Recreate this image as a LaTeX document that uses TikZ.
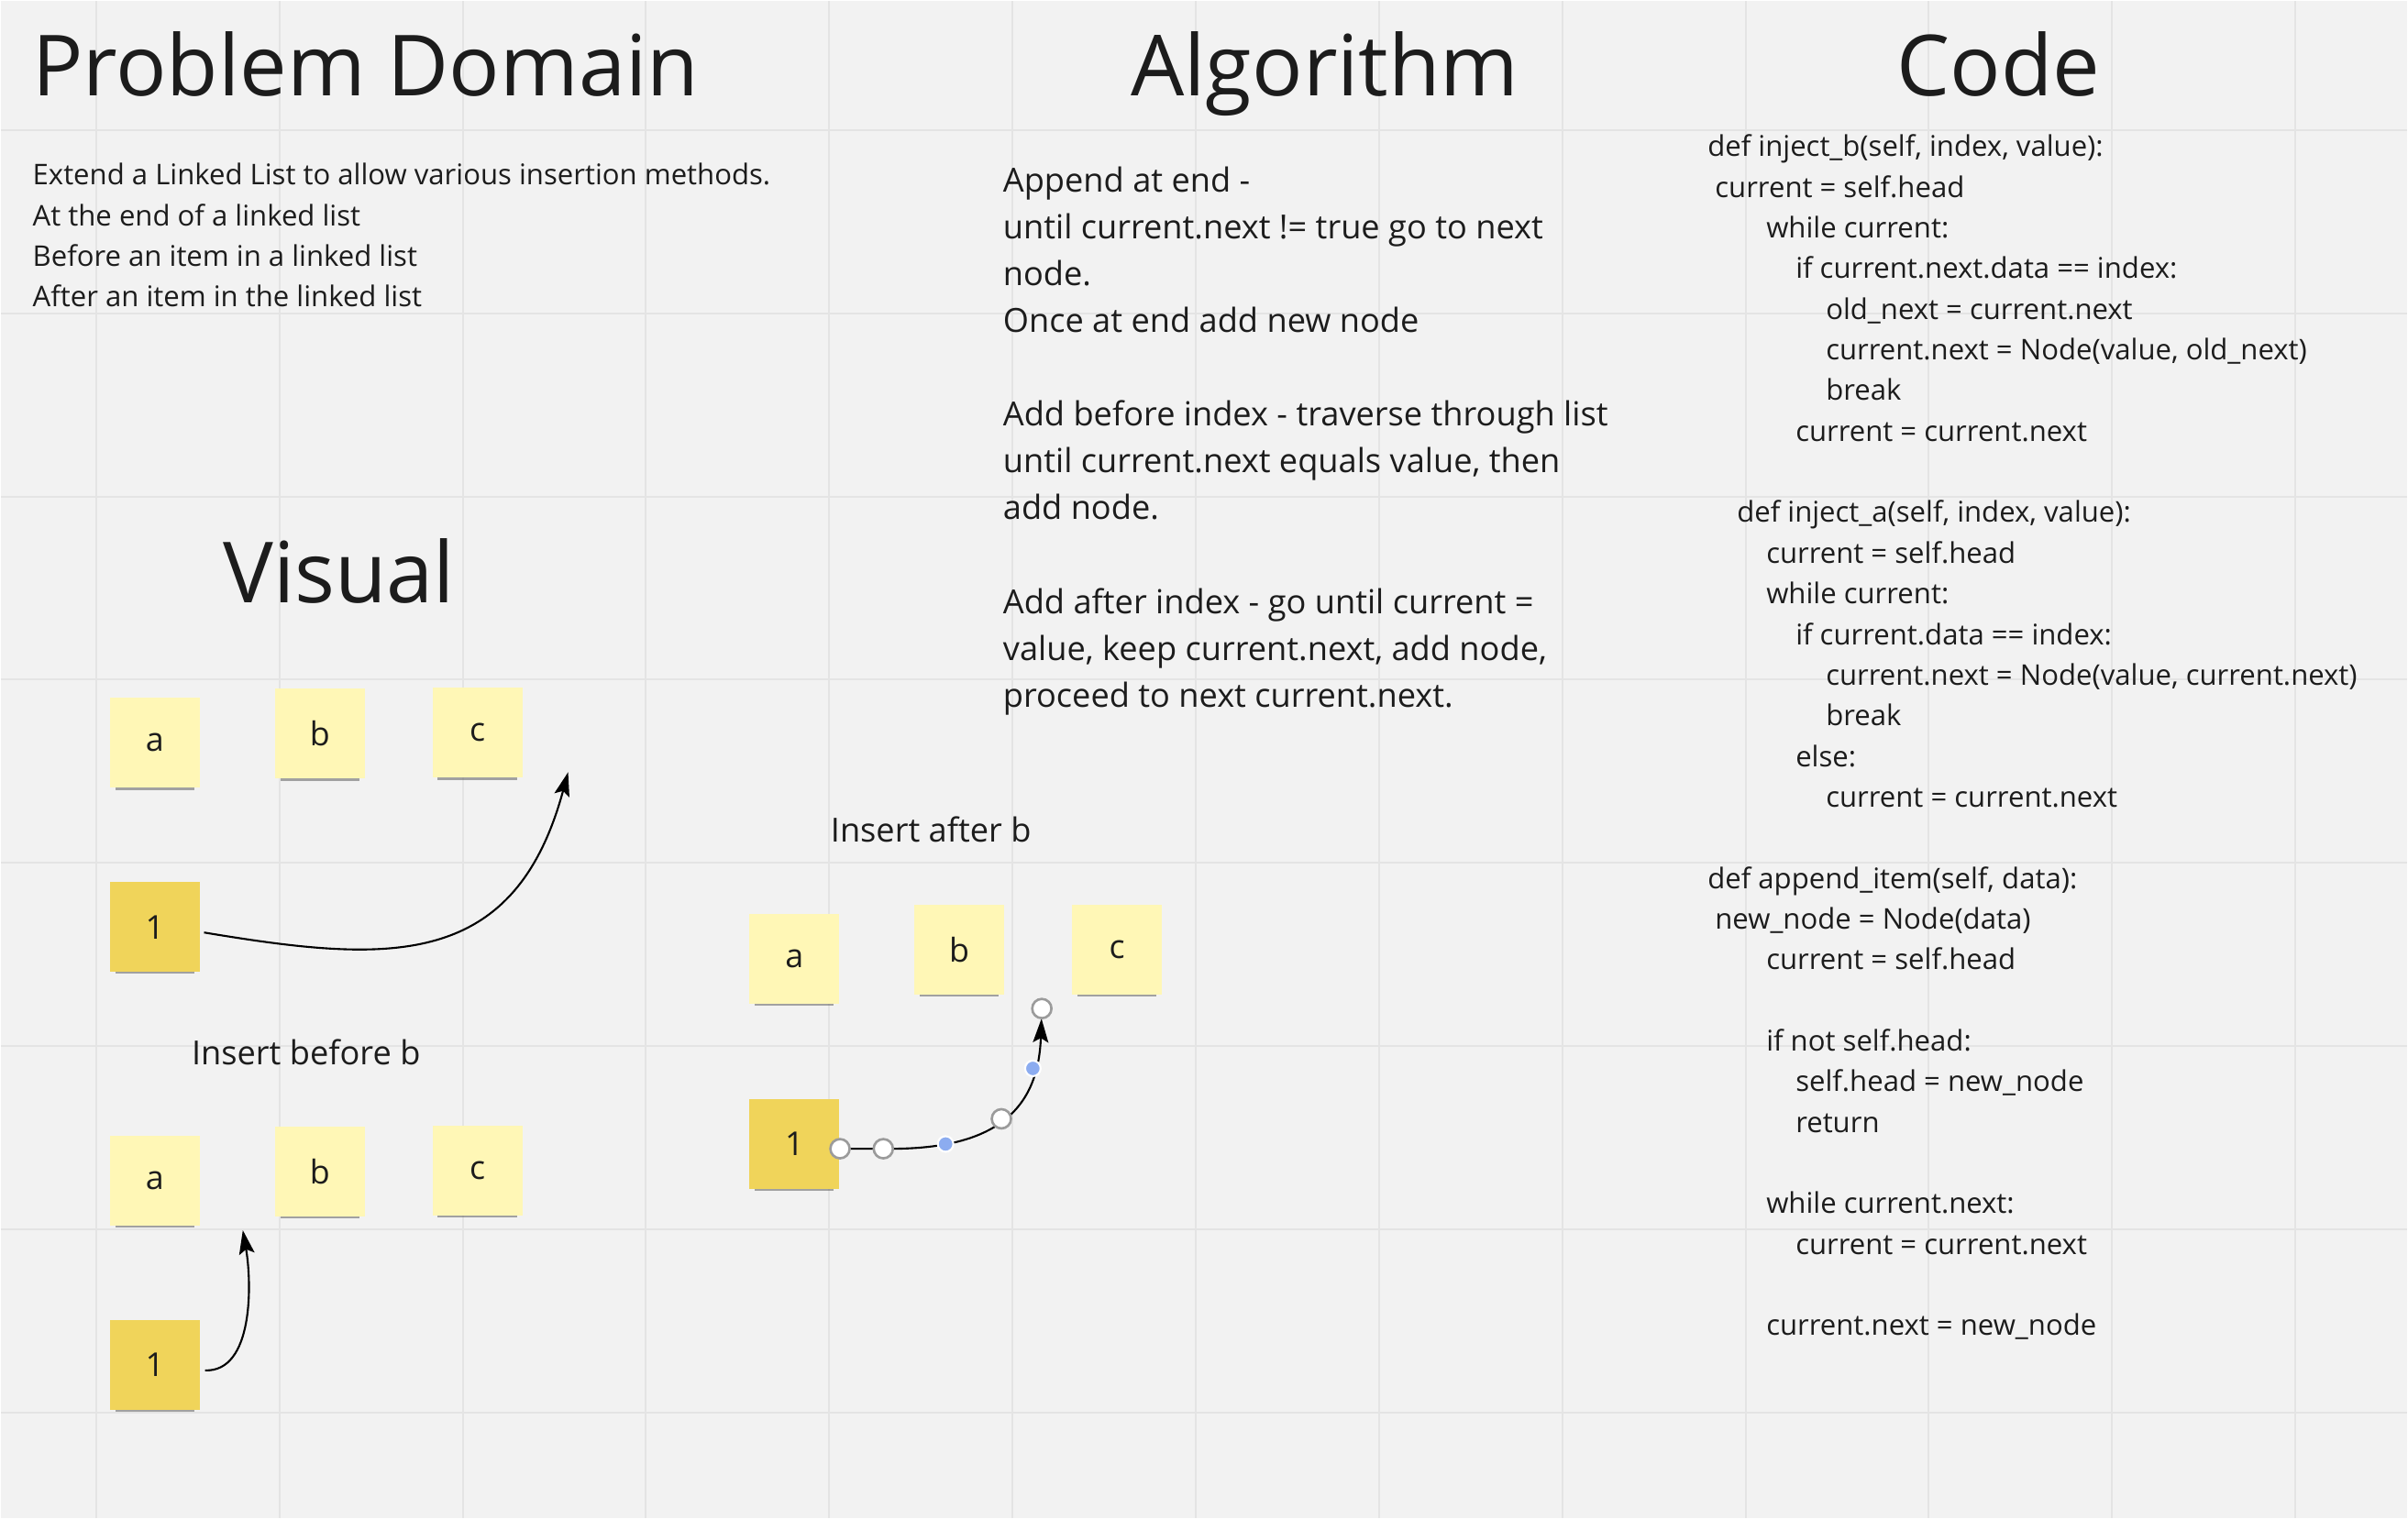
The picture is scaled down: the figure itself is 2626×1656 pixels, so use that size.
\documentclass[tikz,border=0pt]{standalone}
\usepackage{fontspec}
\setmainfont{Open Sans}
\usetikzlibrary{arrows.meta, positioning, shadows}
\definecolor{boardbg}{RGB}{242,242,242}
\definecolor{boardgrid}{RGB}{228,228,228}
\definecolor{stickylight}{RGB}{255,247,182}
\definecolor{stickydark}{RGB}{240,212,90}
\definecolor{inktext}{RGB}{28,28,28}
\definecolor{handlegray}{RGB}{155,155,155}
\definecolor{handleblue}{RGB}{140,172,240}

\begin{document}
\begin{tikzpicture}[x=0.01cm, y=-0.01cm,
    gridline/.style={draw=boardgrid, line width=0.57pt},
    sticky/.style={rectangle, fill=stickylight, minimum size=0.98cm, inner sep=0pt, text=inktext,
        font=\fontsize{10.2}{12}\selectfont,
        drop shadow={shadow xshift=0pt, shadow yshift=-2.6pt, shadow scale=0.88, opacity=0.45, fill=black!75}},
    stickyone/.style={sticky, fill=stickydark},
    heading/.style={anchor=base, inner sep=0pt, text=inktext, font=\fontsize{26.2}{32}\selectfont},
    plaintext/.style={anchor=base west, align=left, inner sep=0pt, text=inktext, font=\fontsize{8.85}{12.62}\selectfont},
    algotext/.style={anchor=base west, align=left, inner sep=0pt, text=inktext, font=\fontsize{10.3}{14.55}\selectfont},
    caption/.style={anchor=base, inner sep=0pt, text=inktext, font=\fontsize{10.3}{12}\selectfont},
    link/.style={draw=black, line width=0.6pt, -{Stealth[length=7.4pt, width=4.8pt, inset=1.4pt]}},
    handle/.style={circle, draw=handlegray, fill=white, line width=0.75pt, minimum size=0.21cm, inner sep=0pt},
    midhandle/.style={circle, fill=handleblue, draw=white, line width=0.6pt, minimum size=0.17cm, inner sep=0pt}]

    % Board and grid
    \fill[boardbg] (0,0) rectangle (2626,1656);
    \foreach \gx in {104,304,...,2504} \draw[gridline] (\gx,0) -- (\gx,1656);
    \foreach \gy in {141,341,...,1541} \draw[gridline] (0,\gy) -- (2626,\gy);
    \useasboundingbox (0,0) rectangle (2626,1656);

    % Headings
    \node[heading] (probtitle) at (398,104) {Problem Domain};
    \node[heading] (algotitle) at (1445,104) {Algorithm};
    \node[heading] (codetitle) at (2180,104) {Code};
    \node[heading] (vistitle) at (369,657) {Visual};

    % Problem domain (anchored at last baseline)
    \node[plaintext] (probtext) at (34,334) {Extend a Linked List to allow various insertion methods.\\
        At the end of a linked list\\
        Before an item in a linked list\\
        After an item in the linked list};

    % Algorithm
    \node[algotext] (algotext) at (1093,771) {Append at end -\\
        until current.next != true go to next\\
        node.\\
        Once at end add new node\\[14.55pt]
        Add before index - traverse through list\\
        until current.next equals value, then\\
        add node.\\[14.55pt]
        Add after index - go until current =\\
        value, keep current.next, add node,\\
        proceed to next current.next.};

    % Code
    \node[plaintext] (codetext) at (1862,1457) {def inject\_b(self, index, value):\\
        \hspace*{2.3pt}current = self.head\\
        \hspace*{18.2pt}while current:\\
        \hspace*{27.3pt}if current.next.data == index:\\
        \hspace*{36.7pt}old\_next = current.next\\
        \hspace*{36.7pt}current.next = Node(value, old\_next)\\
        \hspace*{36.7pt}break\\
        \hspace*{27.3pt}current = current.next\\[12.62pt]
        \hspace*{9.1pt}def inject\_a(self, index, value):\\
        \hspace*{18.2pt}current = self.head\\
        \hspace*{18.2pt}while current:\\
        \hspace*{27.3pt}if current.data == index:\\
        \hspace*{36.7pt}current.next = Node(value, current.next)\\
        \hspace*{36.7pt}break\\
        \hspace*{27.3pt}else:\\
        \hspace*{36.7pt}current = current.next\\[12.62pt]
        def append\_item(self, data):\\
        \hspace*{2.3pt}new\_node = Node(data)\\
        \hspace*{18.2pt}current = self.head\\[12.62pt]
        \hspace*{18.2pt}if not self.head:\\
        \hspace*{27.3pt}self.head = new\_node\\
        \hspace*{27.3pt}return\\[12.62pt]
        \hspace*{18.2pt}while current.next:\\
        \hspace*{27.3pt}current = current.next\\[12.62pt]
        \hspace*{18.2pt}current.next = new\_node};

    % Visual - append at end
    \node[sticky] (va) at (168,810) {a};
    \node[sticky] (vb) at (348,800) {b};
    \node[sticky] (vc) at (520,799) {c};
    \node[stickyone] (vone) at (168,1011) {1};
    \coordinate (appendend) at (619,842);
    \draw[link] ([shift={(4,6)}]vone.east) .. controls +(199,33) and +(-59,218) .. (appendend);

    % Insert before b
    \node[caption] (beforecap) at (333,1161) {Insert before b};
    \node[sticky] (ba) at (168,1288) {a};
    \node[sticky] (bb) at (348,1278) {b};
    \node[sticky] (bc) at (520,1277) {c};
    \node[stickyone] (bone) at (168,1489) {1};
    \coordinate (beforeend) at (264,1342);
    \draw[link] ([shift={(5,6)}]bone.east) .. controls +(53,2) and +(10,58) .. (beforeend);

    % Insert after b
    \node[caption] (aftercap) at (1015,918) {Insert after b};
    \node[sticky] (aa) at (866,1046) {a};
    \node[sticky] (ab) at (1046,1036) {b};
    \node[sticky] (ac) at (1218,1036) {c};
    \node[stickyone] (aone) at (866,1248) {1};
    \coordinate (afterbend) at (963,1253);
    \coordinate (afterend) at (1136,1100);
    \draw[link, shorten >=0.11cm] (aone.east |- afterbend) node[handle] (h1) {}
        -- (afterbend) node[handle] (h2) {}
        .. controls +(117,2) and +(-4,115) .. node[midhandle, pos=0.22] (m1) {} node[handle, pos=0.5] (h3) {} node[midhandle, pos=0.78] (m2) {}
        (afterend) node[handle] (h4) {};

\end{tikzpicture}
\end{document}
